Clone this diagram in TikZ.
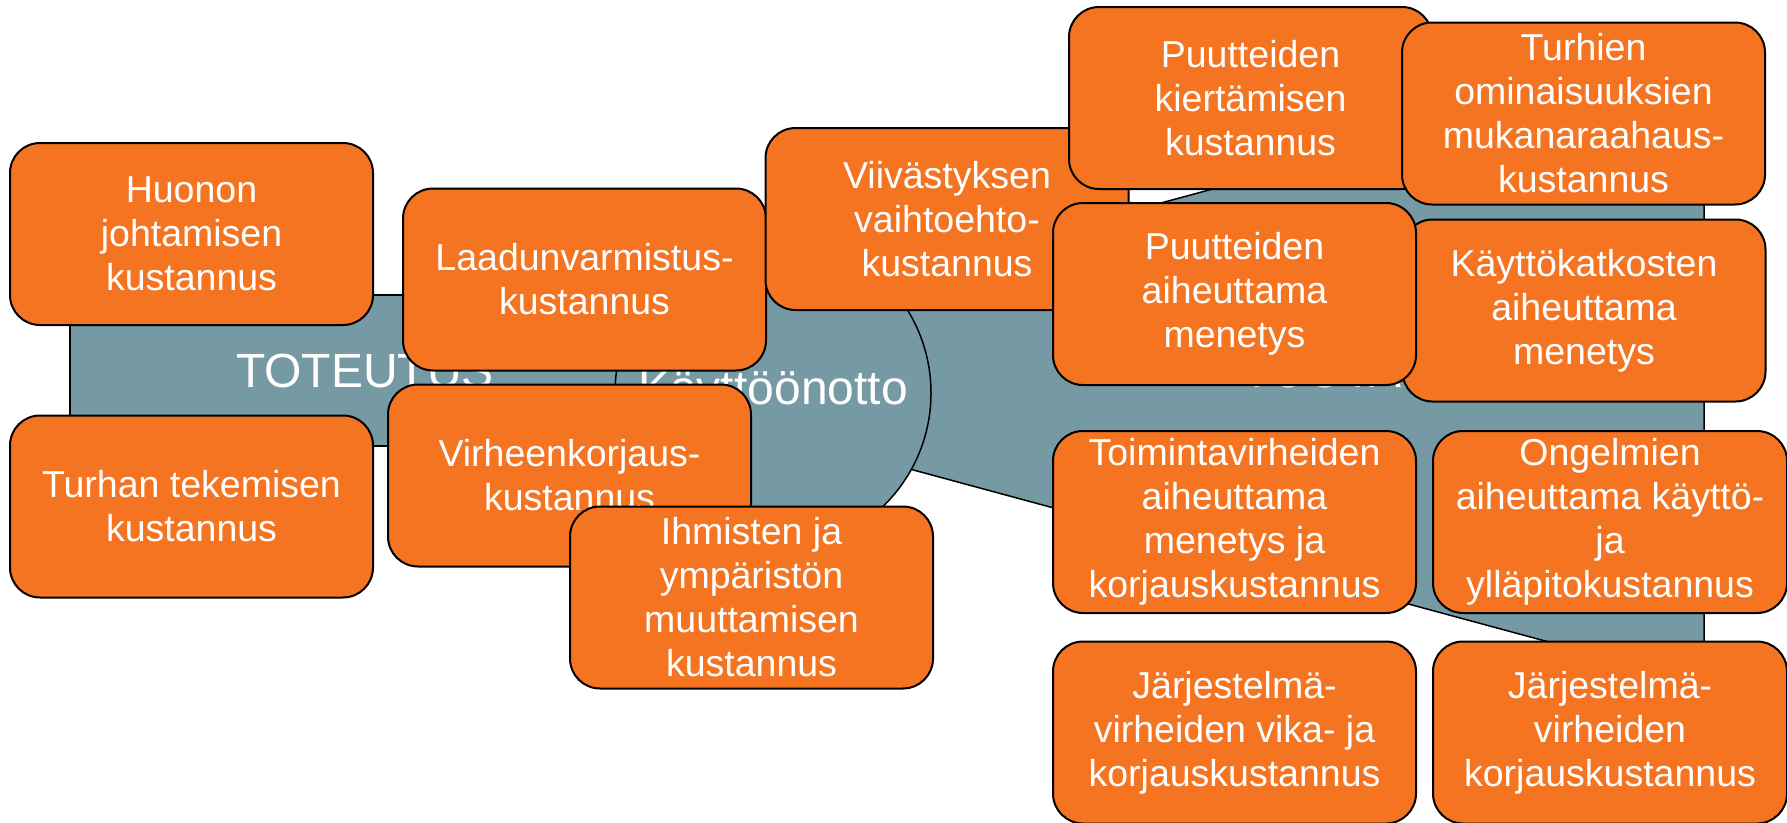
\documentclass[tikz,border=0pt]{standalone}
\usepackage{fontspec}
\setmainfont{Liberation Sans}
\definecolor{orangeC}{RGB}{244,116,34}
\definecolor{greyC}{RGB}{118,154,164}
\begin{document}
\begin{tikzpicture}[x=1pt,y=-1pt,
  cbox/.style={draw=black, line width=2pt, fill=orangeC, rounded corners=30pt,
    minimum width=363pt, minimum height=182pt, inner sep=0pt, align=center,
    text=white, font=\fontsize{37.5}{44}\selectfont},
  phase/.style={draw=black, line width=1.5pt, fill=greyC},
  title/.style={text=white, font=\fontsize{48}{55}\selectfont, inner sep=0pt}]
\useasboundingbox (0,0) rectangle (1787,822);
% phases
\draw[phase] (70,295) rectangle (660,446);
\draw[phase] (773,308) -- (1704,56) -- (1704,684) -- (773,432) -- cycle;
\draw[phase] (773,393) circle[radius=158pt];
\node[title] (t1) at (365,371) {TOTEUTUS};
\node[title] (t3) at (1372,371) {TUOTANTO};
\node[title] (t2) at (773,393) {Käyttöönotto};
% cost boxes
\node[cbox] (b1) at (191.5,234) {Huonon\\johtamisen\\kustannus};
\node[cbox] (b2) at (191.5,506.5) {Turhan tekemisen\\kustannus};
\node[cbox] (b3) at (584.5,279.5) {Laadunvarmistus-\\kustannus};
\node[cbox] (b4) at (569.5,475.5) {Virheenkorjaus-\\kustannus};
\node[cbox] (b5) at (751.5,597.5) {Ihmisten ja\\ympäristön\\muuttamisen\\kustannus};
\node[cbox] (b6) at (947,219) {Viivästyksen\\vaihtoehto-\\kustannus};
\node[cbox] (b7) at (1250.5,98) {Puutteiden\\kiertämisen\\kustannus};
\node[cbox] (b8) at (1583.5,113.5) {Turhien\\ominaisuuksien\\mukanaraahaus-\\kustannus};
\node[cbox] (b10) at (1584,310.5) {Käyttökatkosten\\aiheuttama\\menetys};
\node[cbox] (b9) at (1234.5,294) {Puutteiden\\aiheuttama\\menetys};
\node[cbox] (b11) at (1234.5,522) {Toimintavirheiden\\aiheuttama\\menetys ja\\korjauskustannus};
\node[cbox, minimum width=354pt] (b12) at (1610,522) {Ongelmien\\aiheuttama käyttö-\\ja\\ylläpitokustannus};
\node[cbox] (b13) at (1234.5,732.5) {Järjestelmä-\\virheiden vika- ja\\korjauskustannus};
\node[cbox, minimum width=354pt] (b14) at (1610,732.5) {Järjestelmä-\\virheiden\\korjauskustannus};
\end{tikzpicture}
\end{document}
